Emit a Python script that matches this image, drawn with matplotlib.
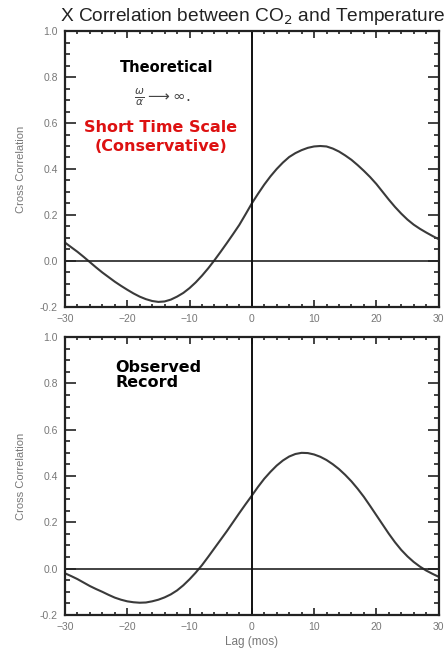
import matplotlib
matplotlib.use("Agg")
import matplotlib.pyplot as plt
from matplotlib.ticker import MultipleLocator

plt.rcParams['font.family'] = ['Liberation Sans', 'DejaVu Sans']
plt.rcParams['mathtext.fontset'] = 'dejavusans'

# lag in months
lags = list(range(-30, 31))

theoretical = [0.08, 0.06, 0.04, 0.018, -0.005, -0.028, -0.05, -0.07, -0.09, -0.108,
               -0.125, -0.141, -0.155, -0.166, -0.174, -0.178, -0.176, -0.168, -0.155,
               -0.139, -0.118, -0.093, -0.064, -0.032, 0.003, 0.04, 0.078, 0.117, 0.157,
               0.203, 0.25, 0.292, 0.332, 0.368, 0.40, 0.428, 0.452, 0.469, 0.482,
               0.492, 0.498, 0.50, 0.498, 0.489, 0.476, 0.459, 0.44, 0.417, 0.392,
               0.365, 0.335, 0.301, 0.267, 0.235, 0.206, 0.180, 0.158, 0.140, 0.124,
               0.109, 0.095]

observed = [-0.02, -0.032, -0.045, -0.06, -0.075, -0.088, -0.10, -0.113, -0.125,
            -0.134, -0.141, -0.145, -0.147, -0.146, -0.141, -0.134, -0.124, -0.111,
            -0.094, -0.072, -0.046, -0.017, 0.015, 0.051, 0.088, 0.125, 0.162, 0.201,
            0.240, 0.278, 0.315, 0.353, 0.388, 0.418, 0.445, 0.467, 0.484, 0.495,
            0.50, 0.499, 0.493, 0.483, 0.469, 0.451, 0.43, 0.405, 0.377, 0.345,
            0.310, 0.271, 0.231, 0.191, 0.151, 0.114, 0.081, 0.053, 0.029, 0.009,
            -0.008, -0.022, -0.035]

xticks = [-30, -20, -10, 0, 10, 20, 30]
yticks = [-0.2, 0.0, 0.2, 0.4, 0.6, 0.8, 1.0]

fig = plt.figure(figsize=(4.48, 6.53), dpi=100)
ax_top = fig.add_axes([0.145, 0.5299, 0.834, 0.4226])
ax_bot = fig.add_axes([0.145, 0.0582, 0.834, 0.4257])

line_col = '#3a3a3a'
label_col = '#777777'
bold_font = ['DejaVu Sans']

for ax, ys in [(ax_top, theoretical), (ax_bot, observed)]:
    ax.plot(lags, ys, color=line_col, lw=1.5, solid_joinstyle='round')
    ax.axhline(0, color='#222222', lw=1.2)
    ax.axvline(0, color='#111111', lw=1.4)
    ax.set_xlim(-30, 30)
    ax.set_ylim(-0.2, 1.0)
    ax.set_xticks(xticks)
    ax.set_yticks(yticks)
    ax.set_yticklabels([f'{v:.1f}' for v in yticks])
    ax.xaxis.set_minor_locator(MultipleLocator(2))
    ax.yaxis.set_minor_locator(MultipleLocator(0.05))
    ax.tick_params(axis='both', which='both', direction='in', top=True, right=True,
                   colors='#222222', labelcolor=label_col, labelsize=7.5, width=1.2)
    ax.tick_params(axis='x', which='major', length=5, pad=5)
    ax.tick_params(axis='x', which='minor', length=2.5)
    ax.tick_params(axis='y', which='major', length=8, pad=5)
    ax.tick_params(axis='y', which='minor', length=3.5)
    for s in ax.spines.values():
        s.set_linewidth(1.6)
        s.set_color('#222222')
    ax.set_ylabel('Cross Correlation', color=label_col, fontsize=8, labelpad=10)

ax_bot.set_xlabel('Lag (mos)', color=label_col, fontsize=8.5, labelpad=3)

fig.text(0.133, 0.974, 'X Correlation between CO$_2$ and Temperature',
         fontsize=13.8, color='#222222', ha='left', va='center')

ax_top.text(0.273, 0.866, 'Theoretical', transform=ax_top.transAxes, fontsize=10.5,
            fontweight='bold', family=bold_font, ha='center', va='center')
ax_top.text(0.26, 0.761, r'$\frac{\omega}{\alpha}\longrightarrow\infty.$',
            transform=ax_top.transAxes, fontsize=11, color='#444444',
            ha='center', va='center')
ax_top.text(0.257, 0.652, 'Short Time Scale', transform=ax_top.transAxes, fontsize=11.5,
            fontweight='bold', family=bold_font, color='#dd1111', ha='center', va='center')
ax_top.text(0.257, 0.58, '(Conservative)', transform=ax_top.transAxes, fontsize=11.5,
            fontweight='bold', family=bold_font, color='#dd1111', ha='center', va='center')

ax_bot.text(0.135, 0.864, 'Observed\nRecord', transform=ax_bot.transAxes, fontsize=11.5,
            fontweight='bold', family=bold_font, ha='left', va='center', linespacing=1.0)

fig.savefig('out.png', dpi=100)
